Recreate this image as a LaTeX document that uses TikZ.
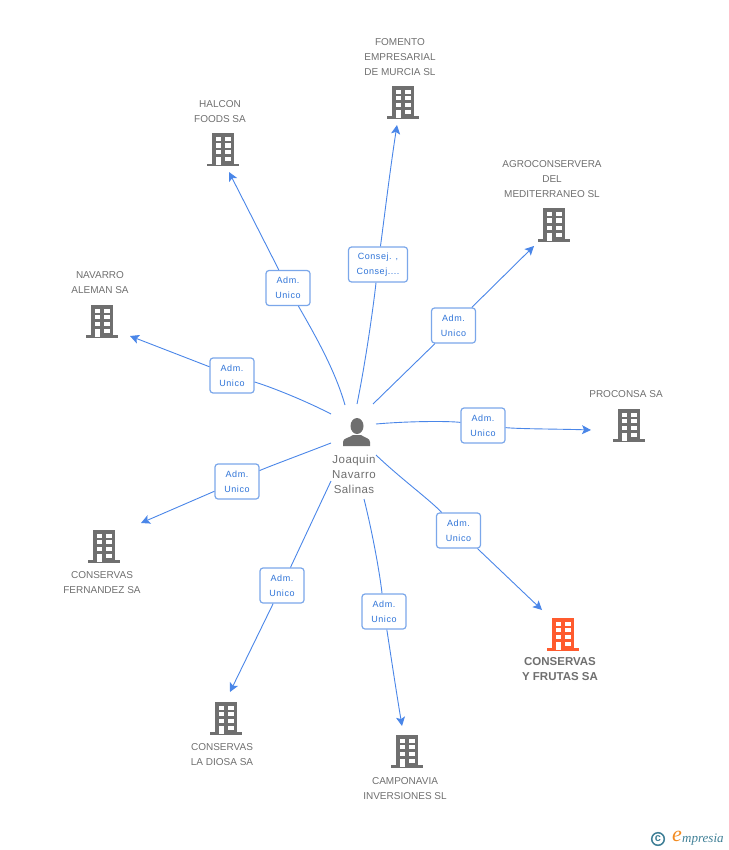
\documentclass[tikz,border=0pt]{standalone}
\usepackage{fontspec}
\setmainfont{Liberation Sans}
\newfontfamily\logofont{Liberation Serif}
\newfontfamily\rolefont[LetterSpace=6]{Liberation Sans}
\newfontfamily\personfont[LetterSpace=4]{Liberation Sans}
\usetikzlibrary{arrows.meta}

\definecolor{linkblue}{HTML}{4A86E8}
\definecolor{boxblue}{HTML}{7BA7EA}
\definecolor{textblue}{HTML}{2F74D8}
\definecolor{labelgrey}{HTML}{6F6F6F}
\definecolor{iconorange}{HTML}{FF5B2E}
\definecolor{logoorange}{HTML}{F28A1E}
\definecolor{logoteal}{HTML}{3F7F96}

\tikzset{
  company/.style={text=labelgrey,align=center,font=\fontsize{10}{15}\selectfont,inner sep=0pt},
  rolebox/.style={draw=boxblue,line width=1.2pt,rounded corners=3pt,fill=white,text=textblue,align=center,
    font=\rolefont\fontsize{9}{15}\selectfont,minimum width=44pt,minimum height=35pt,inner sep=0pt},
  link/.style={draw=linkblue,line width=0.9pt},
  arrowlink/.style={link,-{Stealth[length=9pt,width=9pt,inset=2pt]}},
  pics/bldg/.style={code={
    \fill[#1] (-11,-33) rectangle (11,-2);
    \fill[#1] (-16,-2.5) rectangle (16,0);
    \fill[white] (-7,-29) rectangle (-2,-25);
    \fill[white] (2,-29) rectangle (8,-25);
    \fill[white] (-7,-23) rectangle (-2,-18.5);
    \fill[white] (2,-23) rectangle (8,-18.5);
    \fill[white] (-7,-16) rectangle (-2,-12);
    \fill[white] (2,-16) rectangle (8,-12);
    \fill[white] (-7,-9) rectangle (-2,-1);
    \fill[white] (2,-9) rectangle (8,-5);
  }}
}

\begin{document}
\begin{tikzpicture}[x=1pt,y=-1pt]
\useasboundingbox (0,0) rectangle (728,850);

% person
\fill[labelgrey] (357,426) circle[x radius=6.5,y radius=8];
\fill[labelgrey] (343,446) -- (343,442) .. controls (343,438) and (349,438) .. (353,435)
  -- (361,435) .. controls (365,438) and (370,438) .. (370,442) -- (370,446) -- cycle;
\node[company,font=\personfont\fontsize{11.5}{15}\selectfont] (joaquin) at (354,474.5) {Joaquin\\Navarro\\Salinas};

% connector ends at the person
\coordinate (phalcon) at (345,405);
\coordinate (pfomento) at (357,404);
\coordinate (pagro) at (373,404);
\coordinate (pproconsa) at (376,424);
\coordinate (pfrutas) at (376,455);
\coordinate (pcampo) at (364,499);
\coordinate (pdiosa) at (331,481);
\coordinate (pfernandez) at (331,443);
\coordinate (pnavarro) at (331,414);

% connector ends at the companies
\coordinate (ahalcon) at (229,172);
\coordinate (afomento) at (397,125);
\coordinate (aagro) at (534,246);
\coordinate (aproconsa) at (591,430);
\coordinate (afrutas) at (542,610);
\coordinate (acampo) at (402,726);
\coordinate (adiosa) at (230,692);
\coordinate (afernandez) at (141,523);
\coordinate (anavarro) at (130,336);

% role boxes
\node[rolebox] (rhalcon) at (288,288) {Adm.\\Unico};
\node[rolebox,minimum width=59pt] (rfomento) at (378,264.5) {Consej. ,\\Consej....};
\node[rolebox] (ragro) at (453.5,325.5) {Adm.\\Unico};
\node[rolebox] (rproconsa) at (483,425.5) {Adm.\\Unico};
\node[rolebox] (rfrutas) at (458.5,530.5) {Adm.\\Unico};
\node[rolebox] (rcampo) at (384,611.5) {Adm.\\Unico};
\node[rolebox] (rdiosa) at (282,585.5) {Adm.\\Unico};
\node[rolebox] (rfernandez) at (237,481.5) {Adm.\\Unico};
\node[rolebox] (rnavarro) at (232,375.5) {Adm.\\Unico};

% connectors
\draw[link] (phalcon) .. controls (335,370) and (315,335) .. (rhalcon);
\draw[arrowlink] (rhalcon) -- (ahalcon);
\draw[link] (pfomento) .. controls (365,365) and (373,310) .. (rfomento);
\draw[arrowlink] (rfomento) .. controls (384,220) and (390,170) .. (afomento);
\draw[link] (pagro) -- (ragro);
\draw[arrowlink] (ragro) -- (aagro);
\draw[link] (pproconsa) .. controls (410,421) and (450,421) .. (rproconsa);
\draw[arrowlink] (rproconsa) .. controls (520,429) and (560,429) .. (aproconsa);
\draw[link] (pfrutas) .. controls (400,478) and (430,500) .. (rfrutas);
\draw[arrowlink] (rfrutas) -- (afrutas);
\draw[link] (pcampo) .. controls (373,535) and (380,575) .. (rcampo);
\draw[arrowlink] (rcampo) .. controls (390,650) and (396,690) .. (acampo);
\draw[link] (pdiosa) -- (rdiosa);
\draw[arrowlink] (rdiosa) -- (adiosa);
\draw[link] (pfernandez) .. controls (300,455) and (265,468) .. (rfernandez);
\draw[arrowlink] (rfernandez) -- (afernandez);
\draw[link] (pnavarro) .. controls (300,398) and (265,385) .. (rnavarro);
\draw[arrowlink] (rnavarro) -- (anavarro);

% companies
\pic at (403,119) {bldg=labelgrey};
\node[company] (fomento) at (400,57) {FOMENTO\\EMPRESARIAL\\DE MURCIA SL};
\pic at (223,166.5) {bldg=labelgrey};
\node[company] (halcon) at (220,111.5) {HALCON\\FOODS SA};
\pic at (102,337.5) {bldg=labelgrey};
\node[company] (navarro) at (100,282.5) {NAVARRO\\ALEMAN SA};
\pic at (554,241.5) {bldg=labelgrey};
\node[company] (agro) at (552,179) {AGROCONSERVERA\\DEL\\MEDITERRANEO SL};
\pic at (629,441.5) {bldg=labelgrey};
\node[company] (proconsa) at (626,394) {PROCONSA SA};
\pic at (563,650.5) {bldg=iconorange};
\node[company,font=\fontsize{11.5}{15}\selectfont\bfseries] (frutas) at (560,669.5) {CONSERVAS\\Y FRUTAS SA};
\pic at (407,767.5) {bldg=labelgrey};
\node[company] (campo) at (405,788.5) {CAMPONAVIA\\INVERSIONES SL};
\pic at (226,734.5) {bldg=labelgrey};
\node[company] (diosa) at (222,754.5) {CONSERVAS\\LA DIOSA SA};
\pic at (104,562.5) {bldg=labelgrey};
\node[company] (fernandez) at (102,582.5) {CONSERVAS\\FERNANDEZ SA};

% logo
\draw[logoteal,line width=1.5pt] (658,839) circle (6.3);
\node[text=logoteal,inner sep=0pt,font=\fontsize{11}{11}\selectfont\bfseries] (copy) at (658,838.5) {c};
\node[text=logoorange,inner sep=0pt,font=\logofont\itshape\fontsize{22}{22}\selectfont] (logoe) at (677,836.5) {e};
\node[text=logoteal,inner sep=0pt,anchor=west,font=\logofont\itshape\fontsize{13}{13}\selectfont] (logotxt) at (682,840) {mpresia};
\end{tikzpicture}
\end{document}
